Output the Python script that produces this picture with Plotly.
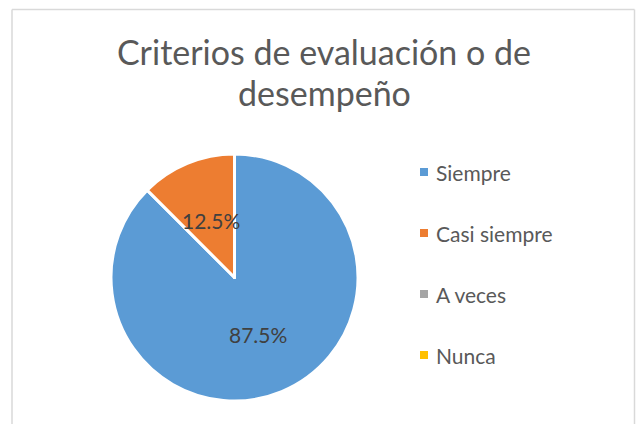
import math
import plotly.graph_objects as go

title_lines = ["Criterios de evaluación o de", "desempeño"]
labels = ["Siempre", "Casi siempre", "A veces", "Nunca"]
values = [87.5, 12.5, 0, 0]
colors = ["#5B9BD5", "#ED7D31", "#A5A5A5", "#FFC000"]
slice_text = ["87.5%", "12.5%", "", ""]

FONT = "Lato, Carlito, Calibri, sans-serif"
W, H = 638, 424
CX, CY, R = 234.5, 277.5, 123.5

fig = go.Figure()
fig.add_trace(go.Pie(
    labels=labels, values=values, sort=False, direction="clockwise", rotation=0,
    marker=dict(colors=colors, line=dict(color="white", width=3)),
    textinfo="none",
    domain=dict(x=[(CX - R) / W, (CX + R) / W], y=[1 - (CY + R) / H, 1 - (CY - R) / H]),
    showlegend=False, hoverinfo="label+percent",
))

# data labels at half radius along each slice's mid angle (Excel style)
total = sum(values)
cum = 0
for v, t in zip(values, slice_text):
    if v > 0:
        mid = (cum + v / 2) / total * 2 * math.pi
        px = CX + 0.5 * R * math.sin(mid)
        py = CY - 0.5 * R * math.cos(mid)
        fig.add_annotation(xref="paper", yref="paper", x=px / W, y=1 - py / H,
                           xanchor="center", yanchor="middle", text=t, showarrow=False,
                           font=dict(family=FONT, size=21, color="#404040"))
    cum += v

# border (top, left, right)
bc = dict(color="#D9D9D9", width=1.5)
for x0, y0, x1, y1 in [(12, 9.5, 634.5, 9.5), (12, 9.5, 12, 430), (634.5, 9.5, 634.5, 430)]:
    fig.add_shape(type="line", xref="paper", yref="paper",
                  x0=x0 / W, x1=x1 / W, y0=1 - y0 / H, y1=1 - y1 / H, line=bc)

# title
for i, line in enumerate(title_lines):
    fig.add_annotation(xref="paper", yref="paper", x=324 / W, y=1 - (52 + i * 41) / H,
                       xanchor="center", yanchor="middle", text=line, showarrow=False,
                       font=dict(family=FONT, size=34, color="#595959"))

# legend
for i, (lab, col) in enumerate(zip(labels, colors)):
    yc = 172 + i * 61
    fig.add_shape(type="rect", xref="paper", yref="paper",
                  x0=420/W, x1=428/W, y0=1-(yc+4)/H, y1=1-(yc-4)/H,
                  fillcolor=col, line=dict(width=0))
    fig.add_annotation(xref="paper", yref="paper", x=434/W, y=1-yc/H,
                       xanchor="left", yanchor="middle", text=lab, showarrow=False,
                       font=dict(family=FONT, size=21, color="#595959"))

fig.update_layout(
    width=W, height=H,
    margin=dict(l=0, r=0, t=0, b=0),
    paper_bgcolor="white", plot_bgcolor="white",
)
fig.write_html("out.html", config={"displayModeBar": False},
               post_script="document.body.style.margin='0';")
